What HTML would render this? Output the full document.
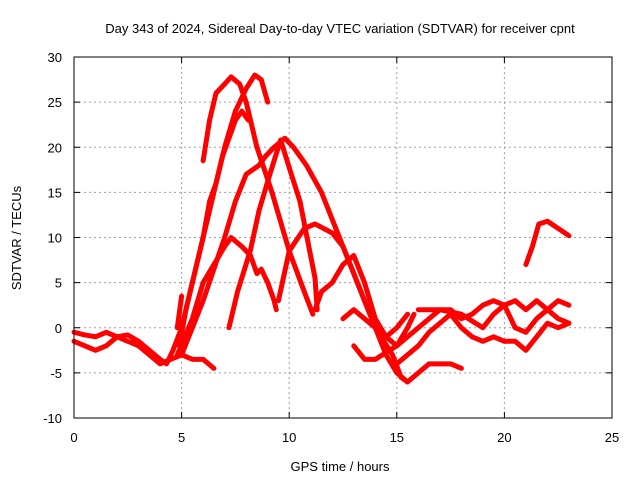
<!DOCTYPE html>
<html><head><meta charset="utf-8"><style>
body{margin:0;background:#fff}
svg{font-family:"Liberation Sans",sans-serif}
</style></head><body>
<svg id="chart" width="640" height="480">
<text x="340" y="33" font-size="13" text-anchor="middle">Day 343 of 2024, Sidereal Day-to-day VTEC variation (SDTVAR) for receiver cpnt</text>
<text x="340" y="471" font-size="13" text-anchor="middle">GPS time / hours</text>
<text transform="translate(21,238) rotate(-90)" font-size="13" text-anchor="middle">SDTVAR / TECUs</text>
<g id="grid"></g><g id="series"></g>
<rect x="74" y="57" width="538" height="361" fill="none" stroke="#000"/>
</svg>
<script>
const xTicks=[0,5,10,15,20,25];
const yTicks=[-10,-5,0,5,10,15,20,25,30];
const track1=[[0,-0.5],[0.5,-0.8],[1,-1],[1.5,-0.5],[2,-1],[2.5,-0.8],[3,-1.5],[3.5,-2.5],[4,-3.5],[4.3,-4],[4.6,-2.5],[5,0],[5.5,5],[6,10],[6.5,15],[7,20],[7.5,24],[8,26.5],[8.4,28],[8.7,27.5],[9,25]];
const track2=[[6,18.5],[6.3,23],[6.6,26],[7,27],[7.3,27.8],[7.7,27],[8,25],[8.5,20],[9.2,15],[10,8.5],[10.7,4],[11.1,1.5]];
const track3=[[5,-3],[6,3],[7,10],[7.5,14],[8,17],[8.6,18],[8.9,19],[9.3,20],[9.8,21],[10.2,20],[10.8,18],[11.5,15],[12,12],[12.5,9],[13,6],[13.5,3],[14,0],[14.5,-3],[15,-5],[15.5,-6],[16,-5],[16.5,-4],[17,-4],[17.5,-4],[18,-4.5]];
const track4=[[4.8,-3],[5.5,1],[6,5],[6.5,7],[7,9],[7.3,10],[7.8,9],[8.2,8],[8.5,6],[8.7,6.5],[9,5],[9.3,3],[9.4,2]];
const track5=[[7.2,0],[7.6,4],[8.2,8.6],[8.6,13],[9.1,17],[9.6,20.8],[10.1,17],[10.5,14],[11.2,5.5],[11.3,2]];
const track6=[[9.5,3],[10,8.5],[10.7,11],[11.2,11.5],[12,10.5],[12.5,9],[13,6],[13.5,3],[14,0],[14.8,-3],[15.2,-5.5],[15.5,-6]];
const track7=[[11.2,2],[11.5,4],[12,5],[12.5,7],[13,8],[13.5,5],[14,1],[14.5,-1],[15,-2],[15.5,0],[15.8,1.5]];
const track8=[[4.9,-2],[5.2,2],[5.6,6],[6,10],[6.3,14],[6.6,16],[6.9,19],[7.2,21],[7.5,23],[7.8,24],[8.1,23]];
const track9=[[0,-1.5],[0.5,-2],[1,-2.5],[1.5,-2],[2,-1],[2.5,-1.5],[3,-2],[3.5,-3],[4,-4],[4.5,-3.5],[5,-3],[5.5,-3.5],[6,-3.5],[6.5,-4.5]];
const track10=[[12.5,1],[13,2],[13.5,1],[14,0],[14.5,-1],[15,0],[15.5,1.5]];
const track11=[[13,-2],[13.5,-3.5],[14,-3.5],[15,-2],[16,0],[17,2],[17.5,2],[18,1],[18.5,1.5],[19,2.5],[19.5,3],[20,2.5],[20.5,3],[21,2],[21.5,3],[22,2],[22.5,3],[23,2.5]];
const track12=[[15,-4],[16,-2],[16.5,-0.5],[17,0.5],[17.5,1.5],[18,0],[18.5,-1],[19,-1.5],[19.5,-1],[20,-1.5],[20.5,-1.5],[21,-2.5],[21.5,-1],[22,0.5],[22.5,0],[23,0.5]];
const track13=[[16,2],[17,2],[18,1.5],[19,0],[19.5,1.5],[20,2.5],[20.5,0],[21,-0.5],[21.5,1],[22,2],[22.5,1],[23,0.5]];
const track14=[[21,7],[21.3,9],[21.6,11.5],[22,11.8],[22.5,11],[23,10.2]];
const track15=[[4.8,0],[5,3.5]];
const tracks=[track1,track2,track3,track4,track5,track6,track7,track8,track9,track10,track11,track12,track13,track14,track15];
const X=t=>74+t*538/25, Y=v=>57+(30-v)*361/40;
const NS='http://www.w3.org/2000/svg';
const svg=document.getElementById('chart'),grid=document.getElementById('grid'),ser=document.getElementById('series');
function mk(tag,attrs,parent){const e=document.createElementNS(NS,tag);for(const k in attrs)e.setAttribute(k,attrs[k]);parent.appendChild(e);return e;}
xTicks.forEach(t=>{
  const l=mk('line',{x1:X(t),x2:X(t),y1:57,y2:418,stroke:'#a0a0a0','stroke-dasharray':'2,3'},grid);
  
  
  const tx=mk('text',{x:X(t),y:442,'font-size':13,'text-anchor':'middle'},svg);tx.textContent=t;
  
  
  mk('line',{x1:X(t),x2:X(t),y1:418,y2:412,stroke:'#000'},grid);mk('line',{x1:X(t),x2:X(t),y1:57,y2:63,stroke:'#000'},grid);
});
yTicks.forEach(v=>{
  const l=mk('line',{x1:74,x2:612,y1:Y(v),y2:Y(v),stroke:'#a0a0a0','stroke-dasharray':'2,3'},grid);
  
  
  const tx=mk('text',{x:62,y:Y(v)+5,'font-size':13,'text-anchor':'end'},svg);tx.textContent=v;
  
  
  mk('line',{x1:74,x2:80,y1:Y(v),y2:Y(v),stroke:'#000'},grid);mk('line',{x1:606,x2:612,y1:Y(v),y2:Y(v),stroke:'#000'},grid);
});
tracks.forEach(tr=>{
  const p=mk('polyline',{points:tr.map(d=>X(d[0])+','+Y(d[1])).join(' '),fill:'none',stroke:'#ff0000','stroke-width':5,'stroke-linejoin':'round','stroke-linecap':'round'},ser);
  
  
});
</script>
</body></html>
